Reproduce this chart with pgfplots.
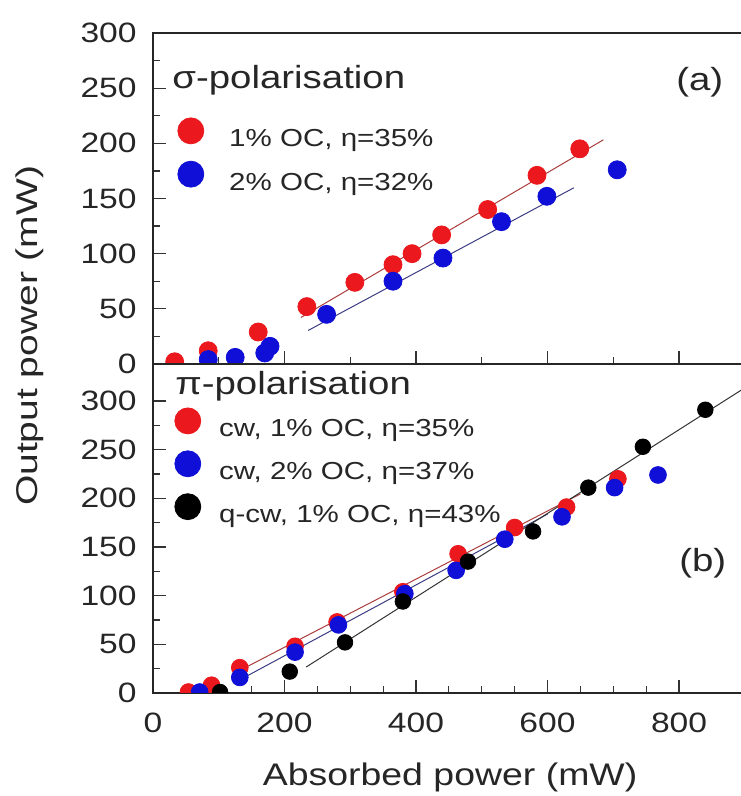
\documentclass[border=0pt]{standalone}
\usepackage{pgfplots}
\pgfplotsset{compat=1.18}
\usepackage{fontspec}
\setmainfont[FakeStretch=1.2]{Liberation Sans}
\newfontfamily\ylabfont[FakeStretch=1.3]{Liberation Sans}
\definecolor{myred}{RGB}{235,25,30}
\definecolor{myblue}{RGB}{15,15,215}
\definecolor{redline}{RGB}{170,60,60}
\definecolor{blueline}{RGB}{60,60,130}
\pgfplotsset{
  common/.style={
    scale only axis, width=295.9pt, xmin=0, xmax=900,
    axis line style={line width=0.8pt, black!85},
    tick align=inside, xtick pos=bottom, ytick pos=left,
    major tick length=6.5pt, minor tick length=3.5pt,
    every tick/.style={line width=0.6pt, black!80},
    xtick={0,200,...,800}, ytick={0,50,...,300},
    minor y tick num=1,
    ticklabel style={font=\fontsize{14}{16}\selectfont, text=black!85},
    /pgf/number format/assume math mode=true,
    yticklabel style={anchor=east, inner sep=0pt, xshift=-8pt},
    xticklabel style={anchor=north, inner sep=0pt, yshift=-10pt},
    clip marker paths=true,
    legend cell align=left,
    legend image code/.code={\fill (0pt,4.4pt) circle (6.5pt);},
  },
  pts/.style={only marks, mark=*, mark size=#1},
  fitl/.style={no marks, line width=0.5pt, forget plot},
}
\begin{document}
\begin{tikzpicture}
% ---------- top panel (a) ----------
\begin{axis}[common, at={(76.5pt,216pt)}, anchor=south west,
  height=165.5pt, ymin=0, ymax=300, minor x tick num=1, xticklabels={},
  ylabel={\ylabfont Output power (mW)},
  ylabel style={at={(axis description cs:-0.196,0.085)}, anchor=base,
    font=\fontsize{15}{17}\selectfont, text=black!85},
  legend style={at={(axis description cs:0.0406,0.746)}, anchor=north west,
    draw=none, fill=none, inner sep=0pt, row sep=5.5pt,
    font=\fontsize{12.3}{14}\selectfont, text=black!85,
    nodes={inner sep=0pt},
    /tikz/every odd column/.append style={column sep=12.5pt}},
]
\addplot[fitl, redline] coordinates {(225,42.2) (685,203.2)};
\addplot[fitl, blueline] coordinates {(236,30.4) (640,159.7)};
\addplot[pts=4.5pt, myred] coordinates {
 (33,2) (84,12) (160,29) (234,52) (307,74) (365,90) (394,100) (439,117)
 (509,140) (584,171) (649,195)};
\addlegendentry{1\% OC, η=35\%}
\addplot[pts=4.5pt, myblue] coordinates {
 (84,4) (125,6) (170,10) (178,16) (264,45) (365,75) (441,96) (530,129)
 (599,152) (706,176)};
\addlegendentry{2\% OC, η=32\%}
\node[anchor=base west, inner sep=0pt, font=\fontsize{16}{18}\selectfont, text=black!85]
  at (axis description cs:0.032,0.831) {σ-polarisation};
\node[inner sep=0pt, font=\fontsize{16}{18}\selectfont, text=black!85]
  at (axis description cs:0.924,0.852) {(a)};
\end{axis}
% ---------- bottom panel (b) ----------
\begin{axis}[common, at={(76.5pt,51.5pt)}, anchor=south west,
  height=164.5pt, ymin=0, ymax=338, minor x tick num=3,
  xlabel={Absorbed power (mW)},
  xlabel style={at={(axis description cs:0.502,-0.28)}, anchor=base,
    font=\fontsize{15.6}{18}\selectfont, text=black!85},
  legend style={at={(axis description cs:0.0355,0.869)}, anchor=north west,
    draw=none, fill=none, inner sep=0pt, row sep=5.3pt,
    font=\fontsize{12.3}{14}\selectfont, text=black!85,
    nodes={inner sep=0pt},
    /tikz/every odd column/.append style={column sep=9pt}},
]
\addplot[fitl, redline] coordinates {(130,22.5) (650,204.5)};
\addplot[fitl, blueline] coordinates {(140,16.4) (600,183.8)};
\addplot[fitl, black!80] coordinates {(233,26.7) (900,313.5)};
\addplot[pts=4.2pt, myred] coordinates {
 (54,1) (89,8) (132,26) (216,48) (280,73) (380,104) (464,143) (550,170)
 (629,191) (707,220)};
\addlegendentry{cw, 1\% OC, η=35\%}
\addplot[pts=4.2pt, myblue] coordinates {
 (71,1) (132,16) (216,42) (282,70) (383,102) (461,126) (535,158) (622,181)
 (702,211) (768,224)};
\addlegendentry{cw, 2\% OC, η=37\%}
\addplot[pts=3.9pt, black] coordinates {
 (102,1) (208,22) (292,52) (380,94) (479,135) (578,166) (662,211) (745,253)
 (840,291)};
\addlegendentry{q-cw, 1\% OC, η=43\%}
\node[anchor=base west, inner sep=0pt, font=\fontsize{16}{18}\selectfont, text=black!85]
  at (axis description cs:0.037,0.906) {π-polarisation};
\node[inner sep=0pt, font=\fontsize{16}{18}\selectfont, text=black!85]
  at (axis description cs:0.929,0.395) {(b)};
\end{axis}
\pgfresetboundingbox
\path[use as bounding box] (0pt,0pt) rectangle (370pt,398pt);
\end{tikzpicture}
\end{document}
